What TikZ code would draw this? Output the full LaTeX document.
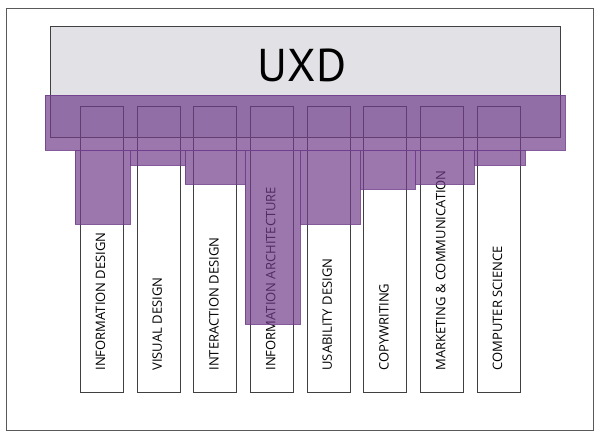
\documentclass[tikz,border=0pt]{standalone}
\usepackage{fontspec}
\setmainfont{PT Sans}
\newfontfamily\fieldfont{Open Sans}

\definecolor{uxdgray}{HTML}{E2E2E6}
\definecolor{uxdpurple}{HTML}{703D8A}

\begin{document}
\begin{tikzpicture}[x=1pt, y=-1pt]

\useasboundingbox (0,0) rectangle (600,439);

\tikzset{%
    frame/.style={draw=black!65, line width=1pt},
    uxdbox/.style={draw=black!75, fill=uxdgray, line width=0.8pt,
        minimum width=510pt, minimum height=111pt, inner sep=0pt},
    field/.style={draw=black!75, line width=0.8pt,
        minimum width=43pt, minimum height=286pt, inner sep=0pt},
    fieldtext/.style={rotate=90, anchor=west, inner sep=0pt,
        font=\fieldfont\fontsize{13}{13}\selectfont},
    overlap/.style={draw=uxdpurple, fill=uxdpurple, fill opacity=0.7,
        draw opacity=0.85, line width=0.6pt}
}

\draw[frame] (6,8) rectangle (593,430);

\node[uxdbox] (uxd) at (305,81.5) {};
\node[font=\fontsize{46}{46}\selectfont, inner sep=0pt] (uxdtext) at (302,65.5) {UXD};

% the fields
\foreach \txt [count=\i] in {INFORMATION DESIGN, VISUAL DESIGN, INTERACTION DESIGN,
    INFORMATION ARCHITECTURE, USABILITY DESIGN, COPYWRITING,
    MARKETING \& COMMUNICATION, COMPUTER SCIENCE} {
    \node[field] (field\i) at ({101.8+56.7*(\i-1)},249) {};
    \node[fieldtext] (text\i) at ({100.5+56.7*(\i-1)},370.7) {\txt};
}

% overlap with UXD
\draw[overlap] (45,95) rectangle (565,150);
\foreach \xa/\xb/\yb in {75/130/224, 130/185/165, 185/245/184, 245/300/324,
    300/360/224, 360/415/189, 415/474/184, 474/525/165} {
    \draw[overlap] (\xa,150) rectangle (\xb,\yb);
}

\end{tikzpicture}
\end{document}
